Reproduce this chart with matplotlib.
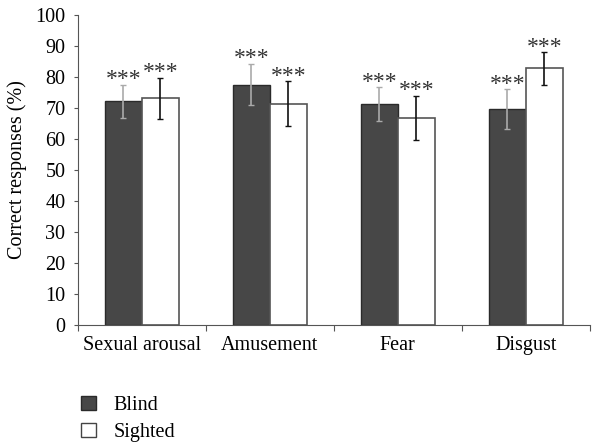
import numpy as np
import matplotlib.pyplot as plt
from matplotlib.patches import Patch

plt.rcParams['font.family'] = ['Liberation Serif', 'DejaVu Serif']

categories = ['Sexual arousal', 'Amusement', 'Fear', 'Disgust']
blind = [72.2, 77.6, 71.3, 69.7]
blind_err = [5.3, 6.7, 5.5, 6.4]
sighted = [73.2, 71.4, 66.9, 82.8]
sighted_err = [6.6, 7.2, 7.1, 5.3]

fig = plt.figure(figsize=(6.03, 4.45), dpi=100)
ax = fig.add_axes([0.129, 0.27, 0.849, 0.696])

x = np.arange(len(categories))
w = 0.29
ax.bar(x - w/2, blind, w, color='#474747', edgecolor='#2a2a2a', linewidth=1.0, label='Blind')
ax.bar(x + w/2, sighted, w, color='white', edgecolor='#555555', linewidth=1.2, label='Sighted')
ax.errorbar(x - w/2, blind, yerr=blind_err, fmt='none', ecolor='#aaaaaa', elinewidth=1.2, capsize=2)
ax.errorbar(x + w/2, sighted, yerr=sighted_err, fmt='none', ecolor='#111111', elinewidth=1.2, capsize=2)

# stars above every error bar
for xi, v, e in zip(x - w/2, blind, blind_err):
    ax.text(xi, v + e - 1.8, '***', ha='center', va='bottom', fontsize=17, color='#333333')
for xi, v, e in zip(x + w/2, sighted, sighted_err):
    ax.text(xi, v + e - 1.8, '***', ha='center', va='bottom', fontsize=17, color='#333333')

ax.set_xlim(-0.5, 3.5)
ax.set_ylim(0, 100)
ax.set_yticks(range(0, 101, 10))
ax.set_xticks(np.arange(-0.5, 4, 1))
ax.set_xticklabels([])
ax.set_xticks(x, minor=True)
ax.set_xticklabels(categories, minor=True, fontsize=14.5)
ax.tick_params(axis='x', which='minor', length=0, pad=8)
ax.tick_params(axis='x', which='major', length=4, color='#555555')
ax.tick_params(axis='y', labelsize=14.5, length=3, color='#555555', pad=6)
ax.set_ylabel('Correct responses (%)', fontsize=14.5, labelpad=6)

for s in ['top', 'right']:
    ax.spines[s].set_visible(False)
for s in ['left', 'bottom']:
    ax.spines[s].set_color('#555555')

handles = [Patch(facecolor='#474747', edgecolor='#2a2a2a', label='Blind'),
           Patch(facecolor='white', edgecolor='#444444', label='Sighted')]
fig.legend(handles=handles, loc='lower left', bbox_to_anchor=(0.105, -0.035),
           frameon=False, fontsize=14.5, handlelength=0.7, handleheight=0.7,
           handletextpad=0.9, labelspacing=0.4)

fig.savefig('out.png', dpi=100)
